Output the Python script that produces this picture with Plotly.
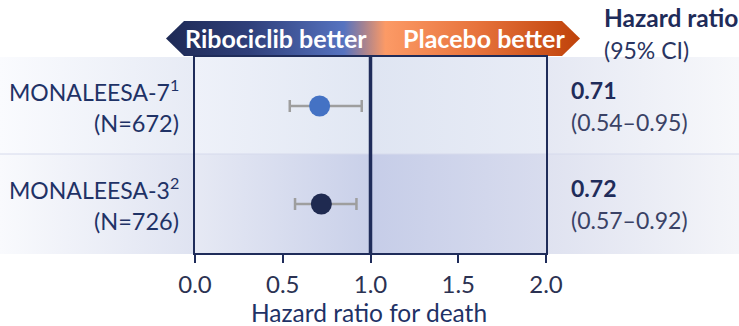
import plotly.graph_objects as go

# ---- data -------------------------------------------------------------
studies = ["MONALEESA-7", "MONALEESA-3"]
refs = ["1", "2"]
n_patients = [672, 726]
hazard_ratio = [0.71, 0.72]
ci_low = [0.54, 0.57]
ci_high = [0.95, 0.92]
marker_colors = ["#4472c4", "#1f2a50"]
row_pos = [1, 0]
x_ticks = [0.0, 0.5, 1.0, 1.5, 2.0]
x_tick_labels = ["0.0", "0.5", "1.0", "1.5", "2.0"]

W, H = 739, 326
FONT = "Lato"
NAVY = "#1f2c5a"
TEXT = "#1f3266"

fig = go.Figure()

# ---- page decoration drawn in a pixel frame (x: 0..W, y: 0..H, y down) ----
def band(y0, y1, stops):
    fig.add_trace(go.Scatter(
        x=[0, W, W, 0, 0], y=[y0, y0, y1, y1, y0],
        mode="lines", line=dict(width=0), fill="toself",
        fillgradient=dict(type="horizontal", colorscale=stops, start=0, stop=W),
        hoverinfo="skip", showlegend=False, xaxis="x", yaxis="y"))

px0, pxm, px1 = 195 / W, 371 / W, 546 / W
band(57, 154, [[0, "#fafbfe"], [px0 - 0.001, "#e7ebf5"], [px0, "#eef1f9"],
               [pxm - 0.001, "#e1e7f3"], [pxm, "#dfe5f2"], [px1 - 0.001, "#e8ecf6"],
               [px1, "#e5e8f3"], [1, "#f7f8fb"]])
band(154, 254, [[0, "#f9fafd"], [px0 - 0.001, "#dfe3f1"], [px0, "#e6e9f4"],
                [pxm - 0.001, "#c9d0e9"], [pxm, "#c6cde8"], [px1 - 0.001, "#d8dcee"],
                [px1, "#dfe2f0"], [1, "#f4f5f9"]])
# thin divider between the two rows
fig.add_trace(go.Scatter(x=[0, W], y=[154, 154], mode="lines",
                         line=dict(color="#d6daec", width=1),
                         hoverinfo="skip", showlegend=False, xaxis="x", yaxis="y"))

# direction banner
bx = [166, 184, 562, 580, 562, 184, 166]
by = [38.5, 21, 21, 38.5, 56, 56, 38.5]
fig.add_trace(go.Scatter(
    x=bx, y=by, mode="lines", line=dict(width=0), fill="toself",
    fillgradient=dict(type="horizontal", start=166, stop=580, colorscale=[
        [0, "#1e2a55"], [0.20, "#2f3f7a"], [0.43, "#5673c0"], [0.48, "#a8838f"],
        [0.53, "#fc9a66"], [0.75, "#e7733c"], [1, "#bf420a"]]),
    hoverinfo="skip", showlegend=False, xaxis="x", yaxis="y"))

# ---- forest plot ------------------------------------------------------
for i in range(len(studies)):
    fig.add_trace(go.Scatter(
        x=[hazard_ratio[i]], y=[row_pos[i]], mode="markers",
        marker=dict(size=21, color=marker_colors[i]),
        error_x=dict(type="data", symmetric=False,
                     array=[ci_high[i] - hazard_ratio[i]],
                     arrayminus=[hazard_ratio[i] - ci_low[i]],
                     color="#9e9e9e", thickness=2.5, width=6),
        showlegend=False, xaxis="x2", yaxis="y2"))

# line of no effect
fig.add_shape(type="line", xref="x2", yref="y2 domain", x0=1, x1=1, y0=0, y1=1,
              line=dict(color=NAVY, width=3.5))

ann = []
# banner captions
ann.append(dict(text="<b>Ribociclib better</b>", x=275.5 / W, y=1 - 38.5 / H,
                font=dict(size=25, color="white")))
ann.append(dict(text="<b>Placebo better</b>", x=484 / W, y=1 - 38.5 / H,
                font=dict(size=25, color="white")))
# column header
ann.append(dict(text="<b>Hazard ratio</b>", x=602 / W, y=1 - 17 / H, xanchor="left",
                font=dict(size=24.5, color=NAVY)))
ann.append(dict(text="(95% CI)", x=602 / W, y=1 - 50 / H, xanchor="left",
                font=dict(size=23, color="#2a3562")))
# axis title
ann.append(dict(text="Hazard ratio for death", x=369 / W, y=1 - 312 / H,
                font=dict(size=24.5, color=TEXT)))

for i in range(len(studies)):
    ann.append(dict(text=f"{studies[i]}<sup>{refs[i]}</sup>", x=181 / W, xanchor="right",
                    yref="y2", y=row_pos[i], yshift=16,
                    font=dict(size=23, color=TEXT)))
    ann.append(dict(text=f"(N={n_patients[i]})", x=181 / W, xanchor="right",
                    yref="y2", y=row_pos[i], yshift=-17,
                    font=dict(size=23.5, color=TEXT)))
    ann.append(dict(text=f"<b>{hazard_ratio[i]:.2f}</b>", x=569 / W, xanchor="left",
                    yref="y2", y=row_pos[i], yshift=16,
                    font=dict(size=23, color=NAVY)))
    ann.append(dict(text=f"({ci_low[i]:.2f}\u2013{ci_high[i]:.2f})", x=569 / W,
                    xanchor="left", yref="y2", y=row_pos[i], yshift=-16,
                    font=dict(size=23, color="#3a4266")))

for a in ann:
    a.setdefault("xref", "paper")
    a.setdefault("yref", "paper")
    a.setdefault("xanchor", "center")
    a["yanchor"] = "middle"
    a["showarrow"] = False

fig.update_layout(
    template="none",
    width=W, height=H,
    margin=dict(l=0, r=0, t=0, b=0, pad=0, autoexpand=False),
    paper_bgcolor="white", plot_bgcolor="rgba(0,0,0,0)",
    font=dict(family=FONT, color=TEXT),
    showlegend=False,
    xaxis=dict(domain=[0, 1], range=[0, W], visible=False, fixedrange=True,
               automargin=False),
    yaxis=dict(domain=[0, 1], range=[H, 0], visible=False, fixedrange=True,
               automargin=False),
    xaxis2=dict(domain=[195 / W, 546 / W], range=[0, 2], anchor="y2",
                tickvals=x_ticks, ticktext=x_tick_labels,
                ticks="outside", ticklen=8, tickwidth=2, tickcolor=NAVY,
                ticklabelstandoff=1,
                showline=True, linewidth=2, linecolor=NAVY, mirror=True,
                showgrid=False, zeroline=False, automargin=False,
                tickfont=dict(size=24, color="#2b3252")),
    yaxis2=dict(domain=[1 - 253 / H, 1 - 57 / H], range=[-0.5, 1.5], anchor="x2",
                showticklabels=False, ticks="", showgrid=False, zeroline=False,
                automargin=False,
                showline=True, linewidth=2, linecolor=NAVY, mirror=True),
    annotations=ann,
)

fig.write_html("out.html")
